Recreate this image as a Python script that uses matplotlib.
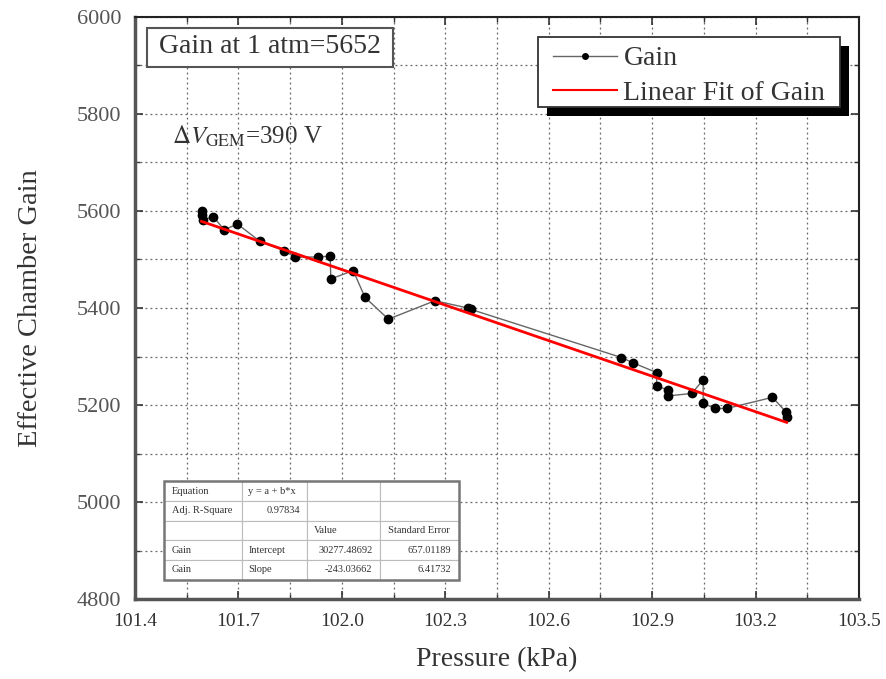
import numpy as np
import matplotlib
matplotlib.use('Agg')
import matplotlib.pyplot as plt
from matplotlib.patches import Rectangle
from matplotlib.ticker import MultipleLocator
from matplotlib.lines import Line2D

# ---- data ----
pressure = [101.593, 101.593, 101.596, 101.627, 101.659, 101.697, 101.763,
            101.832, 101.864, 101.932, 101.966, 101.968, 102.033, 102.067,
            102.135, 102.270, 102.365, 102.375, 102.811, 102.845, 102.913,
            102.913, 102.945, 102.947, 103.015, 103.048, 103.048, 103.082,
            103.116, 103.249, 103.288, 103.290]
gain = [5599, 5592, 5581, 5588, 5561, 5573, 5537,
        5518, 5505, 5505, 5507, 5460, 5477, 5422,
        5377, 5415, 5400, 5397, 5298, 5287, 5267,
        5240, 5231, 5219, 5224, 5252, 5204, 5193,
        5193, 5216, 5186, 5175]

x_ticks = [101.4, 101.7, 102.0, 102.3, 102.6, 102.9, 103.2, 103.5]
y_ticks = [4800, 5000, 5200, 5400, 5600, 5800, 6000]

table_rows = [
    ["Equation", "y = a + b*x", "", ""],
    ["Adj. R-Square", "0.97834", "", ""],
    ["", "", "Value", "Standard Error"],
    ["Gain", "Intercept", "30277.48692", "657.01189"],
    ["Gain", "Slope", "-243.03662", "6.41732"],
]
legend_labels = ["Gain", "Linear Fit of Gain"]
box_text = "Gain at 1 atm=5652"
dv_text = r"$\Delta V_{\rm GEM}$=390 V"

# ---- style ----
plt.rcParams['font.family'] = ['Liberation Serif', 'DejaVu Serif']
plt.rcParams['mathtext.fontset'] = 'stix'

fig = plt.figure(figsize=(8.86, 6.79), dpi=100)
ax = fig.add_axes([0.15237, 0.11738, 0.81716, 0.85803])

x = np.array(pressure)
y = np.array(gain)
ax.plot(x, y, color='#666666', lw=1.0, marker='o', ms=6,
        mfc='black', mec='black', zorder=3)

b, a = np.polyfit(x, y, 1)
xf = np.array([x.min(), x.max()])
ax.plot(xf, a + b * xf, color='#ff0000', lw=2.0, zorder=4)

ax.set_xlim(101.4, 103.5)
ax.set_ylim(4800, 6000)
ax.set_xticks(x_ticks)
ax.set_xticklabels([f"{t:.1f}" for t in x_ticks])
ax.set_yticks(y_ticks)
ax.xaxis.set_minor_locator(MultipleLocator(0.15))
ax.yaxis.set_minor_locator(MultipleLocator(100))
ax.grid(which='both', color='#666666', lw=0.9, linestyle=(0, (1.5, 2.5)))
ax.set_axisbelow(True)

ax.tick_params(which='both', direction='in', top=True, right=True,
               colors='#333333')
ax.tick_params(which='major', length=6, width=1.2, pad=10)
ax.tick_params(which='minor', length=3.5, width=1.0)
ax.tick_params(axis='x', labelsize=14, labelcolor='#333333')
ax.tick_params(axis='y', labelsize=16, labelcolor='#555555')

for side in ['left', 'bottom']:
    ax.spines[side].set_linewidth(2.5)
    ax.spines[side].set_color('#555555')
for side in ['top', 'right']:
    ax.spines[side].set_linewidth(1.5)
    ax.spines[side].set_color('#222222')

ax.set_xlabel("Pressure (kPa)", fontsize=20, color='#333333', labelpad=12)
ax.set_ylabel("Effective Chamber Gain", fontsize=20.5, color='#333333', labelpad=24)

# ---- "Gain at 1 atm" box ----
ax.add_patch(Rectangle((0.0166, 0.9142), 0.3398, 0.0664, transform=ax.transAxes,
                       fc='white', ec='#555555', lw=1.5, zorder=5))
ax.text(0.1865, 0.948, box_text, transform=ax.transAxes, ha='center',
        va='center', fontsize=20, color='#333333', zorder=6)

ax.text(0.051, 0.794, dv_text, transform=ax.transAxes, ha='left',
        va='center', fontsize=18, color='#333333', zorder=6)

# ---- legend with shadow ----
lx0, ly0, lw_, lh_ = 0.5566, 0.8450, 0.4171, 0.1207
ax.add_patch(Rectangle((lx0 + 0.0124, ly0 - 0.0154), lw_, lh_,
                       transform=ax.transAxes, fc='black', ec='black',
                       lw=0, zorder=5))
ax.add_patch(Rectangle((lx0, ly0), lw_, lh_, transform=ax.transAxes,
                       fc='white', ec='#333333', lw=1.3, zorder=6))
handles = [Line2D([], [], color='#666666', lw=1.0, marker='o', ms=4,
                  mfc='black', mec='black'),
           Line2D([], [], color='#ff0000', lw=1.5)]
leg = ax.legend(handles, legend_labels, loc='center',
                bbox_to_anchor=(lx0 + lw_ / 2, ly0 + lh_ / 2 - 0.007),
                frameon=False, fontsize=20, handlelength=2.3,
                handletextpad=0.25, labelspacing=0.32, borderaxespad=0,
                numpoints=1)
for t in leg.get_texts():
    t.set_color('#333333')
leg.set_zorder(7)

# ---- fit table ----
col_w = [0.263, 0.220, 0.248, 0.269]
tbl = ax.table(cellText=table_rows, colWidths=col_w, cellLoc='left',
               bbox=[0.0401, 0.0338, 0.4078, 0.1689], zorder=6)
tbl.auto_set_font_size(False)
tbl.set_fontsize(7.5)
right_cells = [(1, 1), (3, 2), (4, 2), (3, 3), (4, 3)]
for (r, c), cell in tbl.get_celld().items():
    cell.set_edgecolor('#bbbbbb')
    cell.set_linewidth(0.8)
    cell.set_facecolor('white')
    cell.get_text().set_color('#333333')
    if (r, c) in right_cells:
        cell._loc = 'right'
        cell.get_text().set_ha('right')
ax.add_patch(Rectangle((0.0401, 0.0338), 0.4078, 0.1689, transform=ax.transAxes,
                       fc='none', ec='#777777', lw=1.8, zorder=8))

fig.savefig('out.png', dpi=100)
